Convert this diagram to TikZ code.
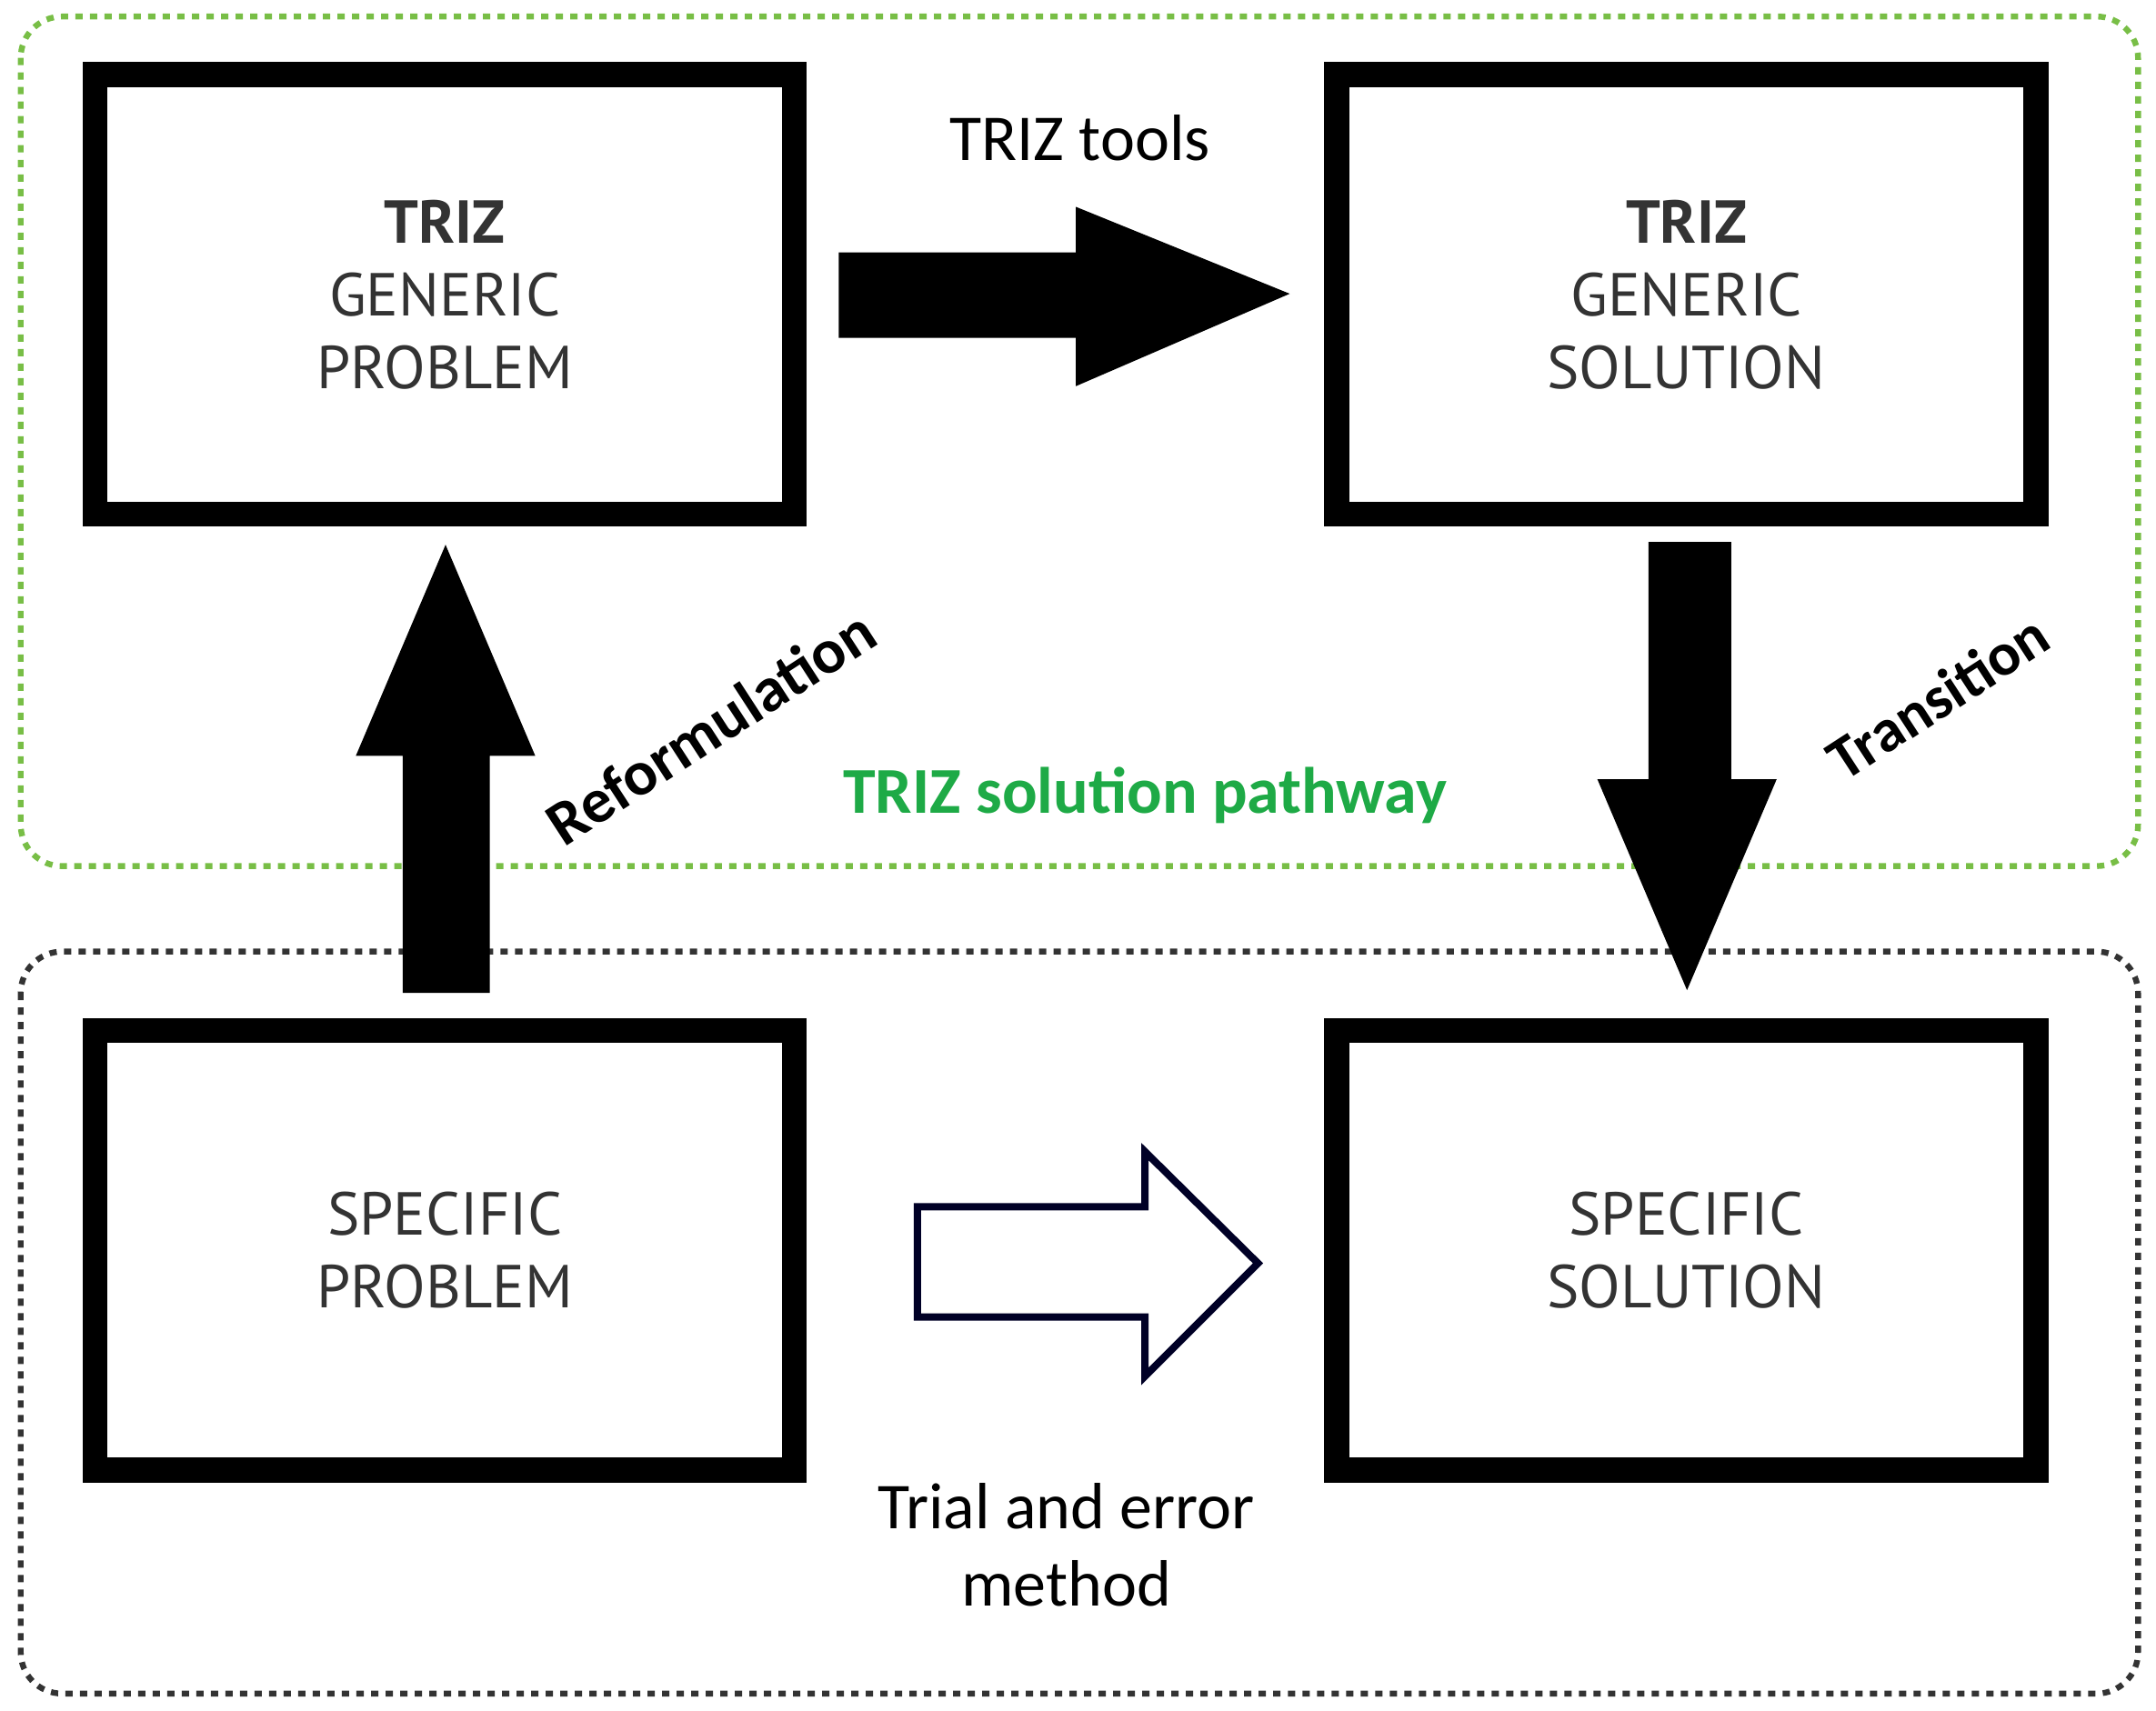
\documentclass[tikz,border=0pt]{standalone}
\usepackage{fontspec}
\setmainfont{Carlito}
\newfontfamily\gill{PT Sans}
\begin{document}
\begin{tikzpicture}[x=0.01cm,y=-0.01cm,
  box/.style={draw=black,line width=18*0.01cm,minimum width=507*0.01cm,minimum height=319*0.01cm,inner sep=0,align=center,font=\gill\fontsize{12.5}{15}\selectfont,text=black!80},
  frame/.style={rounded corners=0.3cm,line width=1.2pt,dash pattern=on 1.5pt off 1.5pt},
  lbl/.style={font=\fontsize{13.5}{16}\selectfont,align=center}]
\definecolor{tgreen}{RGB}{30,170,70}
\definecolor{fgreen}{RGB}{120,190,70}
\useasboundingbox (0,0) rectangle (1563,1240);
\draw[frame,draw=fgreen] (15,12) rectangle (1550,628);
\draw[frame,draw=black!80] (15,690) rectangle (1550,1228);
\node[box] (gp) at (322.5,213.5) {\textbf{TRIZ}\\GENERIC\\PROBLEM};
\node[box] (gs) at (1222.5,213.5) {\textbf{TRIZ}\\GENERIC\\SOLUTION};
\node[box] (sp) at (322.5,906.5) {SPECIFIC\\PROBLEM};
\node[box] (ss) at (1222.5,906.5) {SPECIFIC\\SOLUTION};
\fill (608,183) -- (780,183) -- (780,150) -- (935,213) -- (780,280) -- (780,245) -- (608,245) -- cycle;
\fill (292,720) -- (292,548) -- (258,548) -- (323,395) -- (388,548) -- (355,548) -- (355,720) -- cycle;
\fill (1195,393) -- (1255,393) -- (1255,565) -- (1288,565) -- (1223,718) -- (1158,565) -- (1195,565) -- cycle;
\draw[line width=3.5*0.01cm*1.5,draw=black!85!blue] (665,875) -- (830,875) -- (830,835) -- (912,916) -- (830,998) -- (830,955) -- (665,955) -- cycle;
\node[lbl] (tt) at (783,100) {TRIZ tools};
\node[lbl,font=\bfseries\fontsize{13}{16}\selectfont,rotate=33] (rf) at (515,527) {Reformulation};
\node[lbl,font=\bfseries\fontsize{12.5}{16}\selectfont,rotate=33] (tr) at (1405,505) {Transition};
\node[lbl,font=\bfseries\fontsize{13.5}{16}\selectfont,text=tgreen] (tsp) at (830,577) {TRIZ solution pathway};
\node[lbl,font=\fontsize{13.5}{16}\selectfont] (te) at (773,1120) {Trial and error\\method};
\end{tikzpicture}
\end{document}
